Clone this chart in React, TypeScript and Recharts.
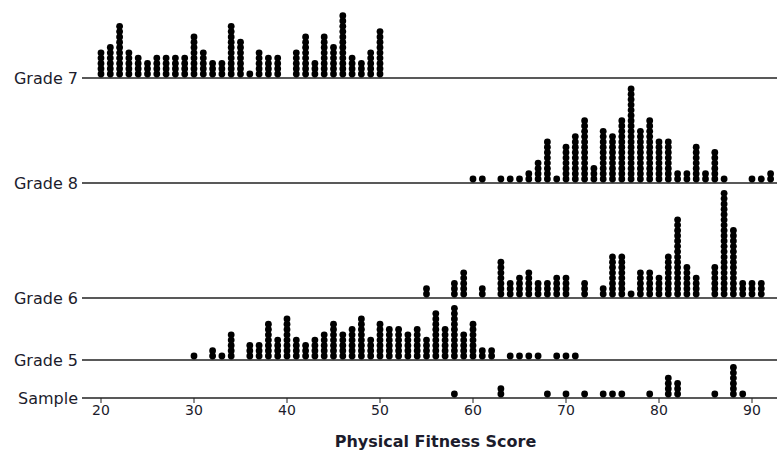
import { ReferenceLine, Scatter, ScatterChart, XAxis, YAxis } from "recharts";

const SCORE_TICKS = [20, 30, 40, 50, 60, 70, 80, 90];
const ROW_NAMES = ["Grade 7", "Grade 8", "Grade 6", "Grade 5", "Sample"];

// number of students at each whole score, starting at the first score
const grade7Start = 20;
const grade7Counts = [
  5, 6, 10, 5, 4, 3, 4, 4, 4, 4, 8, 5, 3, 3, 10, 7, 1, 5, 4, 4, 0, 5, 8, 3, 8, 6, 12, 4, 3, 5, 9,
];

const grade8Start = 60;
const grade8Counts = [
  1, 1, 0, 1, 1, 1, 2, 4, 8, 1, 7, 9, 12, 3, 10, 9, 12, 18, 10, 12, 8, 8, 2, 2, 7, 2, 6, 1, 0, 0, 1, 1, 2,
];

const grade6Start = 55;
const grade6Counts = [
  2, 0, 0, 3, 5, 0, 2, 0, 7, 3, 4, 5, 3, 3, 4, 4, 0, 3, 0, 2, 8, 8, 1, 5, 5, 4, 8, 15, 6, 4, 0, 6, 20, 13, 3, 3, 3,
];

const grade5Start = 30;
const grade5Counts = [
  1, 0, 2, 1, 5, 0, 3, 3, 7, 4, 8, 4, 3, 4, 5, 7, 5, 6, 8, 4, 7, 6, 6, 5, 6, 4, 9, 6, 10, 5, 7, 2, 2, 0, 1, 1, 1, 1, 0, 1, 1, 1,
];

const sampleScores = [58, 63, 63, 68, 70, 72, 74, 75, 76, 79, 81, 81, 81, 81, 82, 82, 82, 86, 88, 88, 88, 88, 88, 88, 89];

// layout
const W = 777;
const H = 454;
const PLOT_LEFT = 82;
const AXIS_Y = 398;
const STEP = 5.3; // px between stacked dots
const R = 3.4;
const ROW_LINE_Y: Record<string, number> = {
  "Grade 7": 78,
  "Grade 8": 183,
  "Grade 6": 298,
  "Grade 5": 360,
  Sample: 398,
};
const INK = "#1c1c2c";

const rowBase = (name: string) => (AXIS_Y - ROW_LINE_Y[name]) / STEP;
const LIFT = (R + 0.6) / STEP;

function stackCounts(start: number, counts: number[], base: number) {
  const pts: { x: number; y: number }[] = [];
  counts.forEach((n, i) => {
    for (let k = 0; k < n; k++) pts.push({ x: start + i, y: base + k + LIFT });
  });
  return pts;
}

function stackScores(scores: number[], base: number) {
  const seen: Record<number, number> = {};
  return scores.map((s) => {
    const k = seen[s] ?? 0;
    seen[s] = k + 1;
    return { x: s, y: base + k + LIFT };
  });
}

const series = [
  stackCounts(grade7Start, grade7Counts, rowBase("Grade 7")),
  stackCounts(grade8Start, grade8Counts, rowBase("Grade 8")),
  stackCounts(grade6Start, grade6Counts, rowBase("Grade 6")),
  stackCounts(grade5Start, grade5Counts, rowBase("Grade 5")),
  stackScores(sampleScores, rowBase("Sample")),
];

const Dot = (props: any) => <circle cx={props.cx} cy={props.cy} r={R} fill="#000" />;

export default function App() {
  const xMin = 20 - (101 - PLOT_LEFT) / 9.3;
  const xMax = 90 + (W - 752) / 9.3;
  const yMax = AXIS_Y / STEP;
  const rowTicks = ROW_NAMES.map(rowBase);

  return (
    <div style={{ position: "absolute", left: 0, top: 0, background: "#fff", fontFamily: "DejaVu Sans" }}>
      <ScatterChart width={W} height={H} margin={{ top: 0, right: 0, bottom: 0, left: 0 }}>
        <XAxis
          type="number"
          dataKey="x"
          domain={[xMin, xMax]}
          allowDataOverflow
          ticks={SCORE_TICKS}
          height={H - AXIS_Y}
          tickSize={5}
          tickMargin={2}
          axisLine={{ stroke: "#222", strokeWidth: 1.5 }}
          tickLine={{ stroke: "#222" }}
          tick={{ fill: INK, fontSize: 14, fontFamily: "DejaVu Sans" }}
          label={{
            value: "Physical Fitness Score",
            position: "insideBottom",
            offset: 7,
            fill: INK,
            fontSize: 16,
            fontWeight: "bold",
            fontFamily: "DejaVu Sans",
            dx: 6,
          }}
        />
        <YAxis
          type="number"
          dataKey="y"
          domain={[0, yMax]}
          allowDataOverflow
          ticks={rowTicks}
          width={PLOT_LEFT}
          axisLine={false}
          tickLine={false}
          tickSize={0}
          tickMargin={4}
          interval={0}
          tickFormatter={(v: number) => {
            const i = rowTicks.findIndex((t) => Math.abs(t - v) < 1e-6);
            return i >= 0 ? ROW_NAMES[i] : "";
          }}
          tick={{ fill: INK, fontSize: 16, fontFamily: "DejaVu Sans" }}
        />
        {ROW_NAMES.slice(0, 4).map((n) => (
          <ReferenceLine key={n} y={rowBase(n)} stroke="#222" strokeWidth={1.5} />
        ))}
        {series.map((pts, i) => (
          <Scatter key={ROW_NAMES[i]} data={pts} shape={Dot} isAnimationActive={false} />
        ))}
      </ScatterChart>
    </div>
  );
}
